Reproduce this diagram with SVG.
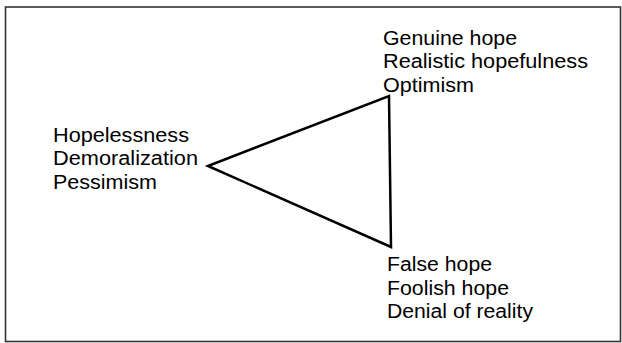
<svg xmlns="http://www.w3.org/2000/svg" width="622" height="343" viewBox="0 0 622 343">
<style>
.t{font-family:"Liberation Sans",Arial,sans-serif;font-size:20px;fill:#000}
.frame{fill:#fff;stroke:#333;stroke-width:1.6}
.tri{fill:none;stroke:#000;stroke-width:2.5;stroke-linejoin:miter}
</style>
<rect class="frame" x="5.5" y="7" width="615" height="334.5"/>
<g id="connectors">
<polygon class="tri" points="208,166 389,96 391,247"/>
</g>
<g id="node-top">
<text class="t" x="383" y="45" textLength="134" lengthAdjust="spacingAndGlyphs">Genuine hope</text>
<text class="t" x="383" y="68" textLength="205" lengthAdjust="spacingAndGlyphs">Realistic hopefulness</text>
<text class="t" x="383" y="91.5" textLength="91" lengthAdjust="spacingAndGlyphs">Optimism</text>
</g>
<g id="node-left">
<text class="t" x="53" y="142" textLength="136" lengthAdjust="spacingAndGlyphs">Hopelessness</text>
<text class="t" x="53" y="165" textLength="145" lengthAdjust="spacingAndGlyphs">Demoralization</text>
<text class="t" x="53" y="188.5" textLength="104" lengthAdjust="spacingAndGlyphs">Pessimism</text>
</g>
<g id="node-bottom">
<text class="t" x="387" y="271" textLength="105" lengthAdjust="spacingAndGlyphs">False hope</text>
<text class="t" x="387" y="294.5" textLength="122" lengthAdjust="spacingAndGlyphs">Foolish hope</text>
<text class="t" x="387" y="318" textLength="146" lengthAdjust="spacingAndGlyphs">Denial of reality</text>
</g>
</svg>
